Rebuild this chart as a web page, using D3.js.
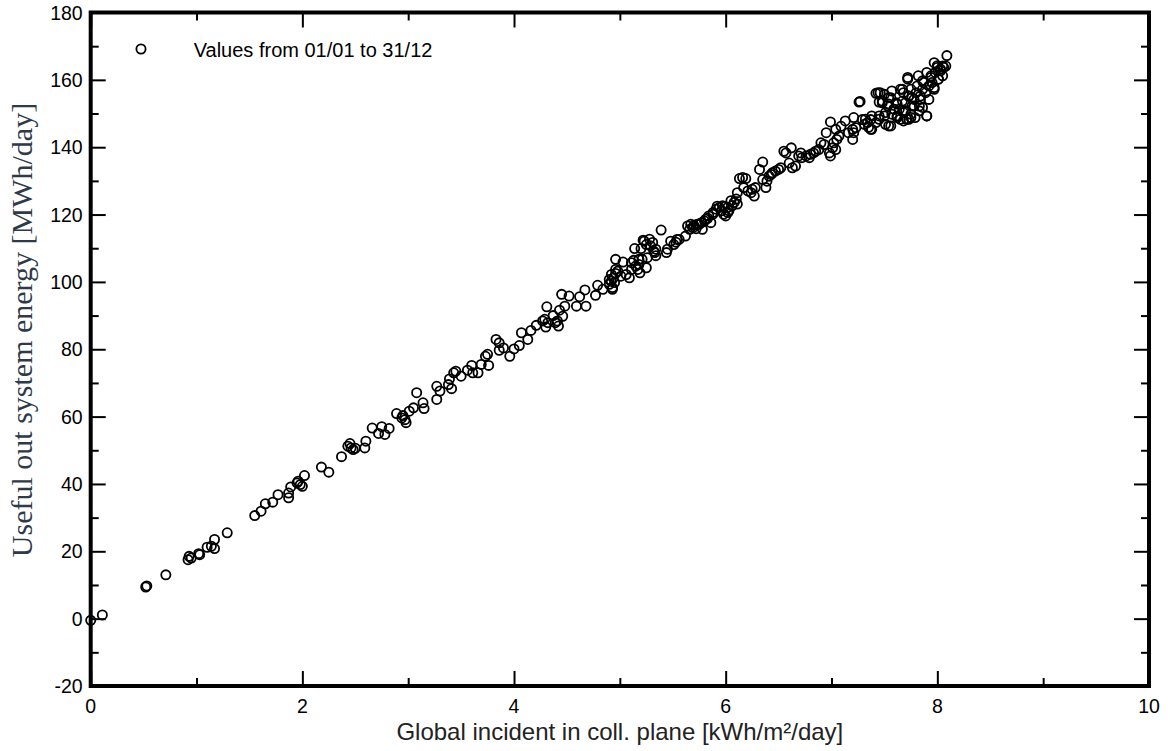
<!DOCTYPE html>
<html>
<head>
<meta charset="utf-8">
<script src="https://cdn.jsdelivr.net/npm/d3@7"></script>
<style>
  body { margin: 0; background: #fff; }
  svg { display: block; }
  .tick-label { font-family: "Liberation Sans", Arial, sans-serif; font-size: 19.5px; fill: #000; }
</style>
</head>
<body>
<svg id="chart" width="1170" height="751"></svg>
<script>
// daily values (irradiation kWh/m2/day, energy MWh/day)
const irradiation = [
  0.00, 0.11, 0.52, 0.53, 0.71, 0.92, 0.93, 0.95, 1.02, 1.03, 1.10, 1.14, 1.17, 1.17, 1.29,
  1.55, 1.61, 1.65, 1.72, 1.77, 1.87, 1.87, 1.89, 1.95, 1.96, 1.98, 2.00, 2.02, 2.18, 2.25,
  2.37, 2.43, 2.45, 2.46, 2.48, 2.50, 2.59, 2.60, 2.66, 2.72, 2.75, 2.78, 2.82, 2.89, 2.94,
  2.95, 2.97, 2.98, 3.01, 3.05, 3.08, 3.14, 3.15, 3.27, 3.27, 3.30, 3.38, 3.39, 3.41, 3.43,
  3.45, 3.50, 3.56, 3.60, 3.61, 3.66, 3.69, 3.73, 3.75, 3.76, 3.83, 3.86, 3.86, 3.90, 3.96,
  4.00, 4.05, 4.07, 4.13, 4.16, 4.21, 4.27, 4.29, 4.30, 4.32, 4.31, 4.37, 4.39, 4.41, 4.42,
  4.43, 4.46, 4.48, 4.45, 4.52, 4.59, 4.62, 4.67, 4.68, 4.77, 4.79, 4.84, 4.90, 4.92, 4.93,
  4.93, 4.94, 4.95, 4.96, 4.96, 4.98, 4.90, 4.92, 4.96,
  5.01, 5.03, 5.06, 5.09, 5.11, 5.11, 5.13, 5.14, 5.15, 5.17, 5.18, 5.18, 5.19, 5.20, 5.21,
  5.22, 5.23, 5.25, 5.25, 5.26, 5.28, 5.29, 5.31, 5.32, 5.33, 5.34, 5.34, 5.39, 5.44, 5.45,
  5.48, 5.51, 5.53, 5.54, 5.56, 5.62, 5.64, 5.66, 5.67, 5.69, 5.70, 5.72, 5.73, 5.75, 5.77,
  5.78, 5.80, 5.81, 5.83, 5.84, 5.86, 5.88, 5.88, 5.91, 5.92, 5.94, 5.96, 5.97, 5.98, 5.99,
  6.00, 6.02, 6.02, 6.03, 6.05, 6.06, 6.08, 6.10, 6.11, 6.11,
  6.13, 6.16, 6.19, 6.17, 6.21, 6.24, 6.25, 6.27, 6.28, 6.32, 6.35, 6.35, 6.38, 6.39, 6.41,
  6.43, 6.44, 6.47, 6.50, 6.52, 6.55, 6.57, 6.60, 6.62, 6.63, 6.66, 6.69, 6.71, 6.72, 6.76,
  6.79, 6.80, 6.83, 6.85, 6.88, 6.90, 6.93, 6.95, 6.98, 6.99, 6.99, 7.01, 7.02, 7.04, 7.04,
  7.05, 7.07, 7.09, 7.13, 7.16,
  7.20, 7.20, 7.21, 7.21, 7.23, 7.26, 7.27, 7.29, 7.31, 7.34, 7.35, 7.37, 7.38, 7.42, 7.42,
  7.45, 7.45, 7.46, 7.48, 7.50, 7.51, 7.51, 7.53, 7.54, 7.56, 7.57, 7.57, 7.59, 7.61, 7.62,
  7.64, 7.65, 7.67, 7.68, 7.70, 7.71, 7.72, 7.73, 7.75, 7.75, 7.76, 7.78, 7.80, 7.81, 7.82,
  7.83, 7.84, 7.86, 7.87, 7.89, 7.90, 7.92, 7.94, 7.95, 7.97, 7.97, 7.98, 8.00, 8.01, 8.03,
  8.06, 8.09,
  7.44, 7.48, 7.56, 7.59, 7.65, 7.67, 7.70, 7.72, 7.76, 7.78, 7.79, 7.84, 7.86, 7.90, 7.92,
  7.97, 8.01, 8.05, 7.32, 7.38, 7.37, 7.45, 7.50, 7.62, 7.68, 7.73, 7.75, 7.83, 7.62, 7.54,
  7.73, 7.68, 7.86, 7.94, 8.00, 8.03, 8.08, 8.05, 7.90, 7.54
];
const energy = [
  -0.5, 1.1, 9.4, 9.7, 13.0, 17.5, 18.5, 18.0, 19.3, 19.0, 21.2, 21.5, 20.8, 23.5, 25.5,
  30.6, 31.9, 34.1, 34.6, 36.8, 35.9, 37.3, 39.1, 40.3, 40.8, 39.8, 39.3, 42.5, 45.0, 43.5,
  48.1, 51.2, 52.0, 50.7, 50.2, 50.6, 50.7, 52.7, 56.6, 55.0, 57.0, 54.7, 56.5, 60.9, 59.6,
  60.3, 59.1, 58.2, 61.6, 62.6, 67.1, 64.1, 62.4, 65.1, 69.0, 67.6, 69.5, 71.2, 68.3, 73.0,
  73.5, 72.0, 73.8, 75.2, 73.0, 73.0, 75.5, 77.9, 78.5, 75.2, 82.9, 81.9, 79.7, 80.4, 77.9,
  80.1, 81.1, 84.9, 82.9, 85.6, 87.1, 88.4, 88.9, 86.6, 87.9, 92.6, 90.0, 87.9, 88.4, 86.9,
  91.6, 89.8, 92.8, 96.3, 95.8, 92.8, 95.6, 97.6, 92.8, 96.0, 99.0, 97.8, 99.3, 100.2, 98.3,
  97.8, 101.2, 99.8, 102.5, 106.7, 103.2, 100.7, 102.2, 103.7,
  101.7, 105.9, 102.2, 101.2, 103.7, 105.7, 106.4, 109.9, 104.7, 103.7, 105.2, 106.7, 102.7, 109.9, 106.7,
  112.4, 112.1, 104.2, 111.1, 107.2, 112.7, 110.7, 111.7, 109.1, 108.7, 107.8, 109.7, 115.4, 108.7, 109.7,
  112.1, 111.1, 111.8, 112.6, 112.6, 113.6, 116.6, 115.6, 117.1, 116.1, 116.8, 115.8, 117.1, 117.1, 117.6,
  115.6, 118.1, 118.6, 118.9, 119.6, 117.6, 120.1, 120.6, 121.6, 122.5, 122.1, 121.1, 122.6, 120.1, 122.4,
  119.6, 120.6, 122.1, 121.1, 124.1, 122.6, 123.6, 124.6, 123.1, 126.5,
  130.7, 131.0, 130.7, 128.0, 127.0, 126.5, 127.5, 125.5, 128.0, 133.4, 135.6, 130.4, 128.0, 129.9, 131.4,
  131.9, 132.4, 132.9, 133.4, 133.9, 138.8, 138.3, 135.3, 139.8, 133.9, 134.4, 137.4, 138.3, 136.9, 137.4,
  136.9, 137.9, 138.3, 138.8, 139.3, 141.3, 140.8, 144.3, 138.3, 137.4, 147.5, 139.8, 141.3, 139.3, 145.3,
  142.3, 143.3, 146.2, 147.8, 144.3,
  142.3, 145.3, 144.3, 148.8, 145.8, 153.4, 153.6, 148.2, 146.8, 147.3, 145.9, 148.2, 145.3, 147.3, 156.0,
  149.3, 153.4, 156.2, 153.2, 155.7, 150.3, 146.8, 152.3, 154.7, 146.3, 156.7, 149.8, 151.3, 153.2, 149.3,
  151.3, 148.3, 157.2, 150.3, 153.2, 148.3, 160.7, 155.2, 157.2, 148.8, 152.2, 154.2, 156.2, 158.2, 161.2,
  152.2, 155.2, 157.2, 159.2, 156.2, 162.2, 158.2, 161.2, 159.2, 157.2, 165.1, 162.2, 164.2, 160.2, 163.2,
  163.7, 167.2,
  156.2, 153.7, 154.7, 151.3, 157.2, 153.7, 150.8, 160.2, 154.7, 152.2, 148.8, 154.2, 151.8, 149.3, 154.2,
  157.7, 160.2, 164.1, 148.3, 149.3, 145.3, 148.3, 149.3, 148.8, 147.8, 148.3, 149.8, 150.8, 152.8, 152.8,
  155.2, 156.2, 159.7, 160.7, 163.7, 162.7, 164.1, 161.2, 149.3, 146.3
];
const xTicks = [0, 2, 4, 6, 8, 10];
const xMinor = [1, 3, 5, 7, 9];
const yTicks = [-20, 0, 20, 40, 60, 80, 100, 120, 140, 160, 180];
const yMinor = [-10, 10, 30, 50, 70, 90, 110, 130, 150, 170];
const legendLabel = "Values from 01/01 to 31/12";
const xTitle = "Global incident in coll. plane [kWh/m\u00b2/day]";
const yTitle = "Useful out system energy [MWh/day]";

const points = irradiation.map((d, i) => ({ x: d, y: energy[i] }));

const margin = { top: 12.5, right: 21, bottom: 65, left: 90.7 };
const width = 1170 - margin.left - margin.right;
const height = 751 - margin.top - margin.bottom;

const svg = d3.select("#chart");
const g = svg.append("g").attr("transform", "translate(" + margin.left + "," + margin.top + ")");

const xScale = d3.scaleLinear().domain([0, 10]).range([0, width]);
const yScale = d3.scaleLinear().domain([-20, 180]).range([height, 0]);

// tick marks on all four sides, pointing inwards
function tickAxis(axis, ticks, size) {
  return axis.tickValues(ticks).tickSize(size).tickFormat("");
}
const axes = g.append("g").attr("class", "ticks");
axes.append("g").attr("transform", "translate(0," + height + ")")
  .call(tickAxis(d3.axisTop(xScale), xTicks, 15));
axes.append("g").attr("transform", "translate(0," + height + ")")
  .call(tickAxis(d3.axisTop(xScale), xMinor, 8));
axes.append("g").call(tickAxis(d3.axisBottom(xScale), xTicks, 15));
axes.append("g").call(tickAxis(d3.axisBottom(xScale), xMinor, 8));
axes.append("g").call(tickAxis(d3.axisRight(yScale), yTicks, 15));
axes.append("g").call(tickAxis(d3.axisRight(yScale), yMinor, 8));
axes.append("g").attr("transform", "translate(" + width + ",0)")
  .call(tickAxis(d3.axisLeft(yScale), yTicks, 15));
axes.append("g").attr("transform", "translate(" + width + ",0)")
  .call(tickAxis(d3.axisLeft(yScale), yMinor, 8));
axes.selectAll(".domain").remove();
axes.selectAll(".tick line").attr("stroke", "#000").attr("stroke-width", 2);

// tick labels
g.selectAll(".xlab").data(xTicks).join("text")
  .attr("class", "tick-label")
  .attr("x", d => xScale(d))
  .attr("y", height + 26.5)
  .attr("text-anchor", "middle")
  .text(d => d);
g.selectAll(".ylab").data(yTicks).join("text")
  .attr("class", "tick-label")
  .attr("x", -8)
  .attr("y", d => yScale(d) + 7)
  .attr("text-anchor", "end")
  .text(d => d);

// frame
g.append("rect")
  .attr("x", 0).attr("y", 0)
  .attr("width", width).attr("height", height)
  .attr("fill", "none")
  .attr("stroke", "#000")
  .attr("stroke-width", 4);

// scatter points
g.append("g").selectAll("circle").data(points).join("circle")
  .attr("cx", d => xScale(d.x))
  .attr("cy", d => yScale(d.y))
  .attr("r", 4.6)
  .attr("fill", "none")
  .attr("stroke", "#000")
  .attr("stroke-width", 1.8);

// legend
g.append("circle")
  .attr("cx", 50.3).attr("cy", 36.5)
  .attr("r", 4.6)
  .attr("fill", "none")
  .attr("stroke", "#000")
  .attr("stroke-width", 1.8);
g.append("text")
  .attr("x", 103).attr("y", 44)
  .attr("font-family", "Liberation Sans, Arial, sans-serif")
  .attr("font-size", 20)
  .text(legendLabel);

// axis titles
svg.append("text")
  .attr("x", margin.left + width / 2)
  .attr("y", 740)
  .attr("text-anchor", "middle")
  .attr("font-family", "Liberation Sans, Arial, sans-serif")
  .attr("font-size", 24)
  .attr("fill", "#222")
  .text(xTitle);
svg.append("text")
  .attr("transform", "translate(32,330) rotate(-90)")
  .attr("text-anchor", "middle")
  .attr("font-family", "Liberation Serif, Times New Roman, serif")
  .attr("font-size", 30)
  .attr("fill", "#2e3a48")
  .text(yTitle);
</script>
</body>
</html>
